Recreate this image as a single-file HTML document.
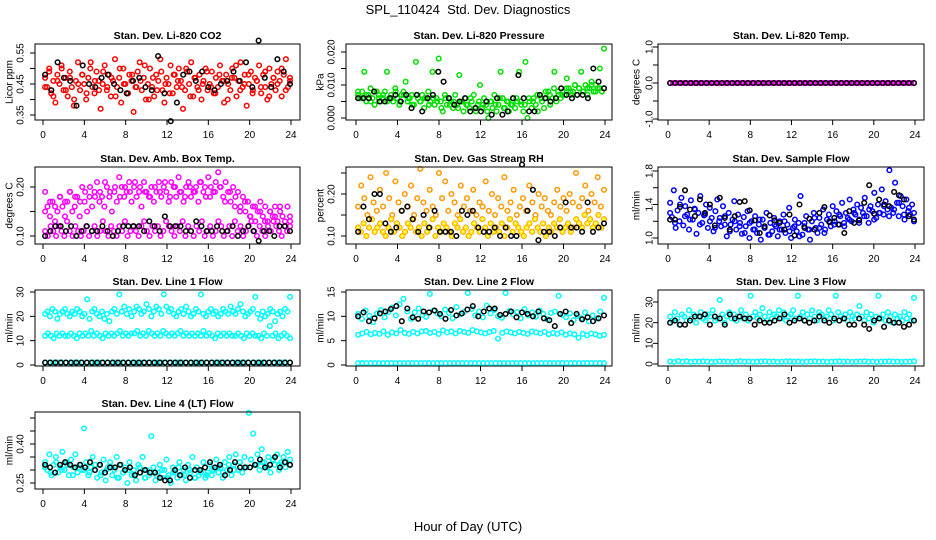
<!DOCTYPE html>
<html><head><meta charset="utf-8"><title>SPL_110424 Std. Dev. Diagnostics</title>
<style>
html,body{margin:0;padding:0;background:#fff;}
svg{display:block;font-family:"Liberation Sans",Arial,sans-serif;}
</style></head>
<body>
<svg id="chart" width="936" height="540" viewBox="0 0 936 540" xmlns="http://www.w3.org/2000/svg">
<rect x="0" y="0" width="936" height="540" fill="#fff"/>
<text x="468" y="14" text-anchor="middle" font-size="13">SPL_110424&#160; Std. Dev. Diagnostics</text>
<text x="468" y="531" text-anchor="middle" font-size="13">Hour of Day (UTC)</text>
</svg>
<script>
// ---- data arrays ----
const hourTicks = [0,4,8,12,16,20,24];
const co2Red = [0.47,0.44,0.50,0.42,0.46,0.39,0.48,0.45,0.51,0.43,0.47,0.41,0.49,0.44,0.38,0.46,0.52,0.43,0.48,0.45,0.40,0.47,0.50,0.44,0.42,0.49,0.46,0.37,0.45,0.51,0.43,0.48,0.41,0.46,0.53,0.44,0.47,0.39,0.50,0.45,0.42,0.48,0.46,0.36,0.44,0.49,0.52,0.43,0.47,0.40,0.45,0.50,0.44,0.41,0.48,0.46,0.53,0.43,0.39,0.47,0.45,0.51,0.42,0.48,0.44,0.50,0.46,0.37,0.43,0.49,0.45,0.52,0.41,0.47,0.44,0.48,0.40,0.46,0.50,0.43,0.45,0.49,0.42,0.47,0.44,0.51,0.46,0.39,0.48,0.45,0.43,0.50,0.47,0.41,0.46,0.52,0.44,0.48,0.38,0.45,0.49,0.43,0.47,0.46,0.51,0.42,0.48,0.44,0.40,0.50,0.45,0.47,0.43,0.49,0.46,0.41,0.48,0.53,0.44,0.47];
const co2Red2 = [0.44,0.49,0.41,0.46,0.50,0.43,0.47,0.40,0.45,0.48,0.42,0.52,0.46,0.43,0.49,0.44,0.47,0.41,0.50,0.45,0.42,0.48,0.44,0.46,0.51,0.40,0.47,0.43,0.49,0.45,0.42,0.48,0.46,0.44,0.50,0.41,0.47,0.43,0.45,0.49,0.44,0.42,0.48,0.46,0.40,0.47,0.51,0.43,0.45,0.48,0.42,0.46,0.44,0.49,0.41,0.47,0.45,0.50,0.43,0.46];
const co2Black = [0.48,0.43,0.52,0.47,0.46,0.38,0.51,0.45,0.44,0.47,0.48,0.45,0.43,0.42,0.46,0.47,0.44,0.43,0.54,0.42,0.33,0.39,0.48,0.49,0.46,0.49,0.44,0.43,0.45,0.46,0.49,0.46,0.52,0.44,0.59,0.47,0.44,0.53,0.49,0.45];
const presGreen = [0.007,0.006,0.008,0.014,0.005,0.007,0.009,0.006,0.004,0.008,0.007,0.005,0.006,0.008,0.014,0.006,0.007,0.005,0.009,0.006,0.004,0.007,0.008,0.011,0.005,0.006,0.007,0.004,0.017,0.006,0.005,0.007,0.003,0.006,0.008,0.005,0.014,0.004,0.006,0.018,0.005,0.002,0.007,0.004,0.006,0.005,0.003,0.007,0.004,0.013,0.005,0.002,0.006,0.004,0.003,0.005,0.007,0.002,0.004,0.010,0.003,0.006,0.004,0.000,0.005,0.003,0.007,0.002,0.004,0.014,0.006,0.003,0.005,0.002,0.004,0.006,0.003,0.005,0.014,0.004,0.002,0.017,0.000,0.005,0.003,0.006,0.004,0.002,0.007,0.005,0.003,0.006,0.008,0.004,0.006,0.014,0.005,0.007,0.006,0.008,0.007,0.012,0.009,0.007,0.008,0.010,0.007,0.009,0.014,0.008,0.010,0.007,0.009,0.011,0.008,0.010,0.009,0.015,0.008,0.021];
const presGreen2 = [0.008,0.006,0.007,0.005,0.008,0.006,0.007,0.005,0.006,0.008,0.005,0.007,0.006,0.004,0.007,0.005,0.006,0.004,0.006,0.005,0.003,0.006,0.004,0.005,0.003,0.005,0.004,0.006,0.003,0.005,0.004,0.002,0.005,0.004,0.006,0.003,0.005,0.004,0.006,0.005,0.004,0.006,0.005,0.007,0.006,0.008,0.007,0.009,0.008,0.007,0.009,0.008,0.010,0.009,0.008,0.009,0.010,0.008,0.009,0.009];
const presBlack = [0.006,0.006,0.006,0.008,0.005,0.005,0.006,0.007,0.005,0.007,0.003,0.007,0.002,0.006,0.007,0.014,0.011,0.006,0.004,0.005,0.006,0.002,0.003,0.002,0.005,0.001,0.006,0.001,0.002,0.006,0.013,0.006,0.002,0.002,0.007,0.006,0.005,0.006,0.009,0.007,0.006,0.007,0.007,0.006,0.015,0.011,0.009];
const tempMag = [0,0,0,0,0,0,0,0,0,0,0,0,0,0,0,0,0,0,0,0,0,0,0,0,0,0,0,0,0,0,0,0,0,0,0,0,0,0,0,0,0,0,0,0,0,0,0,0,0,0,0,0,0,0,0,0,0,0,0,0,0,0,0,0,0,0,0,0,0,0,0,0,0,0,0,0,0,0,0,0,0,0,0,0,0,0,0,0,0,0];
const tempBlack = [0,0,0,0,0,0,0,0,0,0,0,0,0,0,0,0,0,0,0,0,0,0,0,0,0,0,0,0,0,0,0,0,0,0,0,0,0,0,0,0,0,0,0,0,0,0,0,0];
const ambUpper = [0.19,0.16,0.14,0.17,0.13,0.15,0.18,0.16,0.14,0.17,0.19,0.15,0.16,0.18,0.14,0.20,0.17,0.15,0.18,0.16,0.19,0.21,0.17,0.18,0.16,0.20,0.18,0.15,0.19,0.17,0.22,0.20,0.18,0.19,0.21,0.17,0.20,0.18,0.19,0.16,0.21,0.19,0.18,0.20,0.17,0.19,0.21,0.18,0.20,0.19,0.17,0.21,0.20,0.18,0.22,0.19,0.17,0.20,0.21,0.18,0.19,0.20,0.17,0.21,0.19,0.18,0.22,0.20,0.19,0.21,0.23,0.20,0.18,0.21,0.19,0.17,0.20,0.18,0.19,0.16,0.18,0.15,0.17,0.14,0.16,0.13,0.15,0.17,0.14,0.16,0.13,0.15,0.14,0.16,0.13,0.15,0.14,0.12,0.16,0.13];
const ambUpper2 = [0.15,0.17,0.16,0.18,0.17,0.19,0.18,0.17,0.19,0.20,0.18,0.19,0.21,0.19,0.20,0.18,0.20,0.19,0.21,0.20,0.19,0.18,0.20,0.19,0.21,0.18,0.20,0.19,0.18,0.20,0.19,0.21,0.20,0.18,0.19,0.20,0.17,0.19,0.16,0.15,0.17,0.14,0.16,0.15,0.13,0.15,0.14,0.16,0.13,0.14];
const ambLower = [0.11,0.10,0.12,0.11,0.10,0.12,0.11,0.10,0.13,0.11,0.10,0.12,0.11,0.10,0.11,0.12,0.10,0.11,0.12,0.10,0.11,0.13,0.11,0.10,0.12,0.11,0.10,0.12,0.11,0.13,0.10,0.11,0.12,0.11,0.10,0.12,0.13,0.11,0.10,0.12,0.11,0.12,0.10,0.11,0.13,0.12,0.11,0.10,0.12,0.11,0.13,0.10,0.12,0.11,0.10,0.12,0.11,0.13,0.10,0.11,0.12,0.10,0.11,0.13,0.12,0.10,0.11,0.12,0.10,0.13,0.11,0.12,0.10,0.11,0.12,0.13,0.11,0.10,0.12,0.11,0.10,0.12,0.11,0.13,0.12,0.11,0.10,0.12,0.11,0.12];
const ambBlack = [0.10,0.11,0.12,0.12,0.11,0.12,0.10,0.11,0.12,0.11,0.11,0.12,0.11,0.10,0.11,0.12,0.12,0.12,0.12,0.11,0.13,0.12,0.11,0.14,0.12,0.12,0.12,0.11,0.11,0.13,0.12,0.11,0.11,0.12,0.11,0.11,0.12,0.10,0.11,0.12,0.11,0.09,0.11,0.11,0.10,0.12,0.12,0.11];
const rhUpper = [0.17,0.22,0.19,0.15,0.24,0.18,0.16,0.21,0.17,0.25,0.19,0.15,0.23,0.18,0.16,0.20,0.17,0.22,0.15,0.19,0.26,0.18,0.16,0.21,0.17,0.15,0.25,0.19,0.23,0.16,0.20,0.18,0.15,0.22,0.17,0.19,0.16,0.21,0.15,0.18,0.17,0.23,0.16,0.20,0.15,0.19,0.17,0.24,0.16,0.18,0.21,0.15,0.17,0.19,0.16,0.22,0.18,0.15,0.20,0.17,0.19,0.16,0.15,0.18,0.21,0.17,0.19,0.16,0.20,0.18,0.25,0.17,0.19,0.22,0.16,0.20,0.18,0.24,0.17,0.21];
const rhLower = [0.12,0.11,0.13,0.10,0.12,0.14,0.11,0.12,0.13,0.11,0.10,0.12,0.14,0.11,0.13,0.12,0.10,0.11,0.13,0.12,0.14,0.11,0.12,0.10,0.13,0.11,0.12,0.14,0.10,0.12,0.11,0.13,0.12,0.11,0.10,0.13,0.12,0.14,0.11,0.12,0.10,0.11,0.13,0.12,0.11,0.14,0.12,0.10,0.13,0.11,0.12,0.11,0.13,0.10,0.12,0.14,0.11,0.13,0.12,0.11,0.10,0.12,0.13,0.11,0.14,0.12,0.11,0.13,0.10,0.12,0.11,0.13,0.12,0.14,0.11,0.12,0.13,0.11,0.12,0.14,0.13,0.12,0.15,0.13,0.14,0.12,0.13,0.15,0.12,0.14];
const rhBlack = [0.11,0.17,0.14,0.20,0.20,0.13,0.11,0.12,0.16,0.17,0.14,0.11,0.15,0.12,0.16,0.11,0.11,0.11,0.10,0.16,0.15,0.16,0.12,0.11,0.11,0.12,0.10,0.12,0.10,0.10,0.27,0.16,0.21,0.09,0.11,0.11,0.10,0.12,0.18,0.12,0.12,0.11,0.18,0.11,0.12,0.13];
const flowBlue = [1.42,1.25,1.57,1.12,1.33,1.20,1.48,1.15,1.38,1.28,1.10,1.45,1.22,1.35,1.05,1.30,1.50,1.18,1.27,1.40,1.12,1.36,1.24,1.08,1.32,1.46,1.20,1.14,1.38,1.26,1.02,1.30,1.16,1.22,1.44,1.10,1.28,1.18,1.05,1.25,1.14,1.32,1.00,1.20,1.10,1.26,1.06,1.16,0.98,1.22,1.12,1.30,1.04,1.18,1.08,1.24,1.14,1.02,1.20,1.10,1.28,1.06,1.16,1.36,1.00,1.12,1.22,1.08,1.18,1.50,1.04,1.14,1.26,1.10,0.98,1.20,1.30,1.12,1.06,1.24,1.16,1.34,1.10,1.22,1.28,1.14,1.38,1.20,1.32,1.16,1.26,1.42,1.18,1.30,1.24,1.46,1.20,1.34,1.28,1.40,1.22,1.36,1.30,1.48,1.26,1.18,1.38,1.32,1.54,1.24,1.40,1.30,1.58,1.28,1.44,1.34,1.81,1.36,1.30,1.66,1.42,1.26,1.50,1.38,1.22,1.46,1.32,1.28,1.40,1.20];
const flowBlue2 = [1.30,1.18,1.40,1.26,1.22,1.34,1.16,1.28,1.20,1.12,1.24,1.16,1.08,1.20,1.14,1.06,1.18,1.10,1.22,1.12,1.04,1.16,1.10,1.20,1.08,1.14,1.02,1.18,1.10,1.24,1.12,1.06,1.20,1.16,1.28,1.14,1.22,1.30,1.18,1.26,1.34,1.22,1.30,1.38,1.26,1.34,1.42,1.28,1.36,1.30];
const flowBlack = [1.22,1.22,1.37,1.57,1.34,1.26,1.46,1.30,1.40,1.15,1.48,1.24,1.10,1.26,1.43,1.44,1.33,1.21,1.06,1.14,1.27,1.21,1.18,1.10,1.28,1.03,1.40,1.12,1.23,1.10,1.30,1.37,1.19,1.24,1.16,1.06,1.32,1.18,1.21,1.42,1.63,1.29,1.46,1.40,1.38,1.55,1.51,1.46,1.26,1.22];
const l1Upper = [21,22,20,23,22,19,21,22,23,21,20,22,21,23,22,20,21,27,19,22,23,21,20,22,19,21,18,22,23,21,29,22,24,21,23,20,22,24,23,21,22,25,23,20,22,24,23,21,29,24,22,23,21,20,22,23,21,24,22,20,21,23,22,29,21,20,22,23,21,22,20,21,23,22,21,24,22,21,23,25,22,20,21,22,23,28,21,19,22,20,21,23,22,18,21,22,20,23,22,28];
const l1Mid = [12,13,12,11,13,12,13,12,12,13,12,11,13,12,13,12,14,12,13,12,11,13,12,13,12,13,14,12,13,12,13,13,14,12,13,12,14,13,12,13,12,14,13,12,13,12,13,14,12,13,12,13,12,13,12,14,12,13,12,11,13,12,13,12,13,12,12,13,12,11,13,12,13,12,12,11,13,12,16,12,13,11,12,13,12,11];
const l1Low = [1,1,1,1,1,1,1,1,1,1,1,1,1,1,1,1,1,1,1,1,1,1,1,1,1,1,1,1,1,1,1,1,1,1,1,1,1,1,1,1,1,1,1,1,1,1,1,1,1,1,1,1,1,1,1,1,1,1,1,1];
const l1Black = [1,1,1,1,1,1,1,1,1,1,1,1,1,1,1,1,1,1,1,1,1,1,1,1,1,1,1,1,1,1,1,1,1,1,1,1,1,1,1,1,1,1,1,1,1,1,1,1];
const l2Upper = [10.5,9.5,11.2,10.1,8.8,10.6,11.3,9.8,10.9,11.8,10.2,12.5,13.6,11.0,9.5,10.8,11.6,10.3,9.9,14.6,11.2,10.6,10.0,11.4,10.7,9.6,11.9,10.4,10.9,14.8,11.5,10.2,11.0,9.8,12.2,10.6,11.3,10.0,9.7,14.8,11.1,10.4,10.9,9.6,11.5,10.2,10.8,9.9,11.2,10.5,9.4,10.7,11.0,14.2,10.3,9.8,10.6,9.2,10.1,9.6,10.8,9.0,10.2,9.5,11.0,13.8];
const l2Mid = [6.2,6.5,6.8,6.3,6.6,6.4,6.9,6.2,6.7,6.5,7.2,6.6,6.4,6.8,6.5,6.9,7.0,6.6,6.8,6.4,7.1,6.7,6.9,6.5,7.0,6.8,6.6,7.2,6.9,6.7,6.5,6.8,7.0,5.4,6.6,6.9,6.7,6.5,6.8,6.6,6.4,6.9,6.7,6.5,6.8,6.3,6.6,6.4,6.7,6.2,6.5,6.3,5.6,6.4,6.1,6.5,6.3,6.0,6.2];
const l2Low = [0.4,0.4,0.4,0.4,0.4,0.4,0.4,0.4,0.4,0.4,0.4,0.4,0.4,0.4,0.4,0.4,0.4,0.4,0.4,0.4,0.4,0.4,0.4,0.4,0.4,0.4,0.4,0.4,0.4,0.4,0.4,0.4,0.4,0.4,0.4,0.4,0.4,0.4,0.4,0.4,0.4,0.4,0.4,0.4,0.4,0.4,0.4,0.4,0.4,0.4,0.4,0.4,0.4,0.4,0.4,0.4,0.4,0.4,0.4,0.4];
const l2Black = [10.0,10.8,9.0,9.6,10.6,11.0,11.5,12.1,9.0,11.6,9.8,9.5,11.0,10.8,11.2,10.5,9.5,11.3,10.2,10.6,11.4,12.1,10.0,11.0,11.6,11.6,10.3,10.5,11.0,9.8,10.8,10.5,10.0,11.0,9.6,9.2,8.0,10.5,11.0,8.6,10.5,9.4,9.8,9.0,9.6,10.2];
const l3Upper = [23,21,25,22,19,24,23,21,26,22,24,20,23,25,22,21,24,23,26,21,22,31,24,20,23,25,22,24,21,23,26,22,24,21,33,23,25,22,24,27,23,21,25,22,24,23,26,22,25,21,23,24,26,22,33,23,25,21,24,22,26,23,21,25,24,22,23,26,24,21,33,25,23,22,24,21,25,23,22,24,28,23,21,25,22,24,20,23,33,22,24,21,25,23,20,24,22,23,21,25,22,24,21,32];
const l3Low = [1.2,1.0,1.4,1.1,1.3,1.0,1.2,1.1,1.3,1.2,1.0,1.1,1.3,1.2,1.1,1.0,1.2,1.3,1.1,1.2,1.0,1.1,1.2,1.3,1.1,1.2,1.0,1.1,1.2,1.3,1.1,1.2,1.0,1.1,1.2,1.3,1.1,1.2,1.0,1.1,1.2,1.3,1.1,1.2,1.0,1.1,1.2,1.3,1.1,1.2,1.0,1.1,1.2,1.3,1.1,1.2,1.0,1.1,1.2,1.3];
const l3Black = [20,21,19,19,21,23,23,24,19,23,22,19,24,22,23,22,22,19,21,20,20,21,22,24,20,21,22,21,20,21,23,21,20,22,21,22,19,19,22,19,17,21,22,18,21,20,20,18,19,21];
const l4Cyan = [0.33,0.30,0.36,0.28,0.32,0.35,0.29,0.31,0.37,0.30,0.33,0.28,0.34,0.31,0.36,0.29,0.32,0.30,0.46,0.33,0.28,0.31,0.35,0.30,0.27,0.32,0.29,0.34,0.26,0.31,0.33,0.28,0.30,0.35,0.27,0.32,0.29,0.31,0.25,0.33,0.28,0.30,0.26,0.32,0.29,0.35,0.27,0.30,0.28,0.43,0.31,0.26,0.29,0.32,0.27,0.30,0.34,0.28,0.25,0.31,0.29,0.27,0.33,0.28,0.30,0.26,0.32,0.29,0.35,0.27,0.31,0.28,0.30,0.33,0.27,0.29,0.32,0.28,0.30,0.34,0.29,0.31,0.27,0.33,0.30,0.35,0.28,0.32,0.36,0.30,0.33,0.29,0.35,0.31,0.52,0.34,0.44,0.32,0.36,0.30,0.38,0.33,0.31,0.35,0.29,0.34,0.32,0.36,0.30,0.33,0.35,0.31,0.37,0.32];
const l4Cyan2 = [0.31,0.29,0.33,0.30,0.32,0.28,0.31,0.30,0.29,0.32,0.28,0.30,0.31,0.27,0.29,0.30,0.28,0.31,0.27,0.29,0.28,0.30,0.27,0.29,0.31,0.28,0.30,0.27,0.29,0.28,0.30,0.31,0.29,0.32,0.30,0.33,0.31,0.34,0.32,0.33,0.31,0.34,0.32,0.33,0.34];
const l4Black = [0.32,0.31,0.29,0.32,0.33,0.32,0.31,0.32,0.31,0.33,0.30,0.32,0.29,0.31,0.31,0.32,0.30,0.31,0.28,0.29,0.30,0.29,0.29,0.27,0.26,0.26,0.30,0.28,0.31,0.27,0.30,0.30,0.31,0.33,0.31,0.32,0.28,0.30,0.33,0.31,0.31,0.31,0.32,0.34,0.31,0.32,0.35,0.31,0.33,0.32];

// ---- layout ----
const NS = "http://www.w3.org/2000/svg";
const svg = document.getElementById('chart');
const cols = [
  {bx:35, bw:265, x0:43, x24:291, lab:20, tit:9},
  {bx:346, bw:266, x0:356, x24:605, lab:331, tit:320},
  {bx:658, bw:266, x0:668, x24:915, lab:649, tit:636}
];
const rows = [{by:44,bh:76},{by:167,bh:77},{by:290,bh:76},{by:412,bh:77}];

const panels = [
  {name:'co2', title:'Stan. Dev. Li-820 CO2', ylab:'Licor ppm', c:0, r:0, v1:0.35, p1:115, v2:0.55, p2:53,
   ticks:[0.35,0.40,0.45,0.50,0.55], labels:['0.35','','0.45','','0.55'],
   series:[[co2Red,'#ff0000'],[co2Red2,'#ff0000'],[co2Black,'#000']]},
  {name:'pressure', title:'Stan. Dev. Li-820 Pressure', ylab:'kPa', c:1, r:0, v1:0, p1:118, v2:0.02, p2:52,
   ticks:[0,0.005,0.01,0.015,0.02], labels:['0.000','','0.010','','0.020'],
   series:[[presGreen,'#00e000'],[presGreen2,'#00e000'],[presBlack,'#000']]},
  {name:'temp', title:'Stan. Dev. Li-820 Temp.', ylab:'degrees C', c:2, r:0, v1:0, p1:83, v2:1, p2:47,
   ticks:[-1,-0.5,0,0.5,1], labels:['-1.0','','0.0','','1.0'],
   series:[[tempMag,'#ff00ff'],[tempBlack,'#000']]},
  {name:'amb-box-temp', title:'Stan. Dev. Amb. Box Temp.', ylab:'degrees C', c:0, r:1, v1:0.10, p1:236, v2:0.20, p2:187,
   ticks:[0.10,0.15,0.20], labels:['0.10','','0.20'],
   series:[[ambUpper,'#ff00ff'],[ambUpper2,'#ff00ff'],[ambLower,'#ff00ff'],[ambBlack,'#000']]},
  {name:'gas-rh', title:'Stan. Dev. Gas Stream RH', ylab:'percent', c:1, r:1, v1:0.10, p1:236, v2:0.20, p2:194,
   ticks:[0.10,0.15,0.20,0.25], labels:['0.10','','0.20',''],
   series:[[rhUpper,'#ff9900'],[rhLower,'#ff9900'],[rhLower,'#ffee00',0.6],[rhBlack,'#000']]},
  {name:'sample-flow', title:'Stan. Dev. Sample Flow', ylab:'ml/min', c:2, r:1, v1:1.0, p1:238, v2:1.8, p2:171,
   ticks:[1.0,1.2,1.4,1.6,1.8], labels:['1.0','','1.4','','1.8'],
   series:[[flowBlue,'#0000ff'],[flowBlue2,'#0000ff'],[flowBlack,'#000']]},
  {name:'line1-flow', title:'Stan. Dev. Line 1 Flow', ylab:'ml/min', c:0, r:2, v1:0, p1:365, v2:30, p2:292,
   ticks:[0,10,20,30], labels:['0','10','20','30'],
   series:[[l1Upper,'#00ffff'],[l1Mid,'#00ffff'],[l1Low,'#00ffff'],[l1Black,'#000']]},
  {name:'line2-flow', title:'Stan. Dev. Line 2 Flow', ylab:'ml/min', c:1, r:2, v1:0, p1:365, v2:15, p2:292,
   ticks:[0,5,10,15], labels:['0','5','10','15'],
   series:[[l2Upper,'#00ffff'],[l2Mid,'#00ffff'],[l2Low,'#00ffff'],[l2Black,'#000']]},
  {name:'line3-flow', title:'Stan. Dev. Line 3 Flow', ylab:'ml/min', c:2, r:2, v1:0, p1:364, v2:30, p2:302,
   ticks:[0,10,20,30], labels:['0','10','20','30'],
   series:[[l3Upper,'#00ffff'],[l3Low,'#00ffff'],[l3Black,'#000']]},
  {name:'line4-flow', title:'Stan. Dev. Line 4 (LT) Flow', ylab:'ml/min', c:0, r:3, v1:0.25, p1:483, v2:0.50, p2:418,
   ticks:[0.25,0.30,0.35,0.40,0.45,0.50], labels:['0.25','','','0.40','',''],
   series:[[l4Cyan,'#00ffff'],[l4Cyan2,'#00ffff'],[l4Black,'#000']]}
];

function mk(tag, attrs, parent){
  const e = document.createElementNS(NS, tag);
  for (const k in attrs) e.setAttribute(k, attrs[k]);
  (parent||svg).appendChild(e);
  return e;
}

panels.forEach(p => {
  const col = cols[p.c], row = rows[p.r];
  const xScale = h => col.x0 + (col.x24 - col.x0) * h / 24;
  const yScale = v => p.p1 + (v - p.v1) * (p.p2 - p.p1) / (p.v2 - p.v1);
  const g = mk('g', {});
  
  

  const pts = mk('g', {fill:'none', 'stroke-width':'1.5'}, g);
  
  
  p.series.forEach(s => {
    const ys = s[0], color = s[1], rad = s[2] ? 1.5 : 2.3;
    const n = ys.length;
    ys.forEach((v, i) => {
      const h = 0.2 + 23.7 * i / (n - 1);
      const c = mk('circle', {cx: xScale(h).toFixed(1), cy: yScale(v).toFixed(1), r: rad, stroke: color}, pts);
      
      
    });
  });

  const box = mk('rect', {x:col.bx, y:row.by, width:col.bw, height:row.bh, fill:'none', stroke:'#000', 'stroke-width':'1'}, g);
  
  

  const t = mk('text', {x: col.bx + col.bw/2, y: row.by - 5, 'text-anchor':'middle', 'font-size':'10.5', 'font-weight':'bold'}, g);
  t.textContent = p.title;
  
  

  const xa = mk('g', {}, g);
  
  
  const yb = row.by + row.bh;
  mk('line', {x1:xScale(0), x2:xScale(24), y1:yb, y2:yb, stroke:'#000'}, xa);
  hourTicks.forEach(h => {
    const x = xScale(h);
    mk('line', {x1:x, x2:x, y1:yb, y2:yb+5, stroke:'#000'}, xa);
    const lt = mk('text', {x:x, y:yb+18, 'text-anchor':'middle', 'font-size':'10'}, xa);
    lt.textContent = h;
    
    
  });

  const ya = mk('g', {}, g);
  
  
  const yTop = yScale(p.ticks[p.ticks.length-1]), yBot = yScale(p.ticks[0]);
  mk('line', {x1:col.bx, x2:col.bx, y1:yTop, y2:yBot, stroke:'#000'}, ya);
  p.ticks.forEach((v, i) => {
    const y = yScale(v);
    mk('line', {x1:col.bx-5, x2:col.bx, y1:y, y2:y, stroke:'#000'}, ya);
    if (p.labels[i]) {
      const lt = mk('text', {x:col.lab, y:y, 'text-anchor':'middle', 'font-size':'10', transform:`rotate(-90 ${col.lab} ${y})`, dy:'3.5'}, ya);
      lt.textContent = p.labels[i];
      
      
    }
  });
  const cy = row.by + row.bh/2;
  const yt = mk('text', {x:col.tit, y:cy, 'text-anchor':'middle', 'font-size':'10', transform:`rotate(-90 ${col.tit} ${cy})`, dy:'3.5'}, ya);
  yt.textContent = p.ylab;
  
  
});
</script>
</body></html>
